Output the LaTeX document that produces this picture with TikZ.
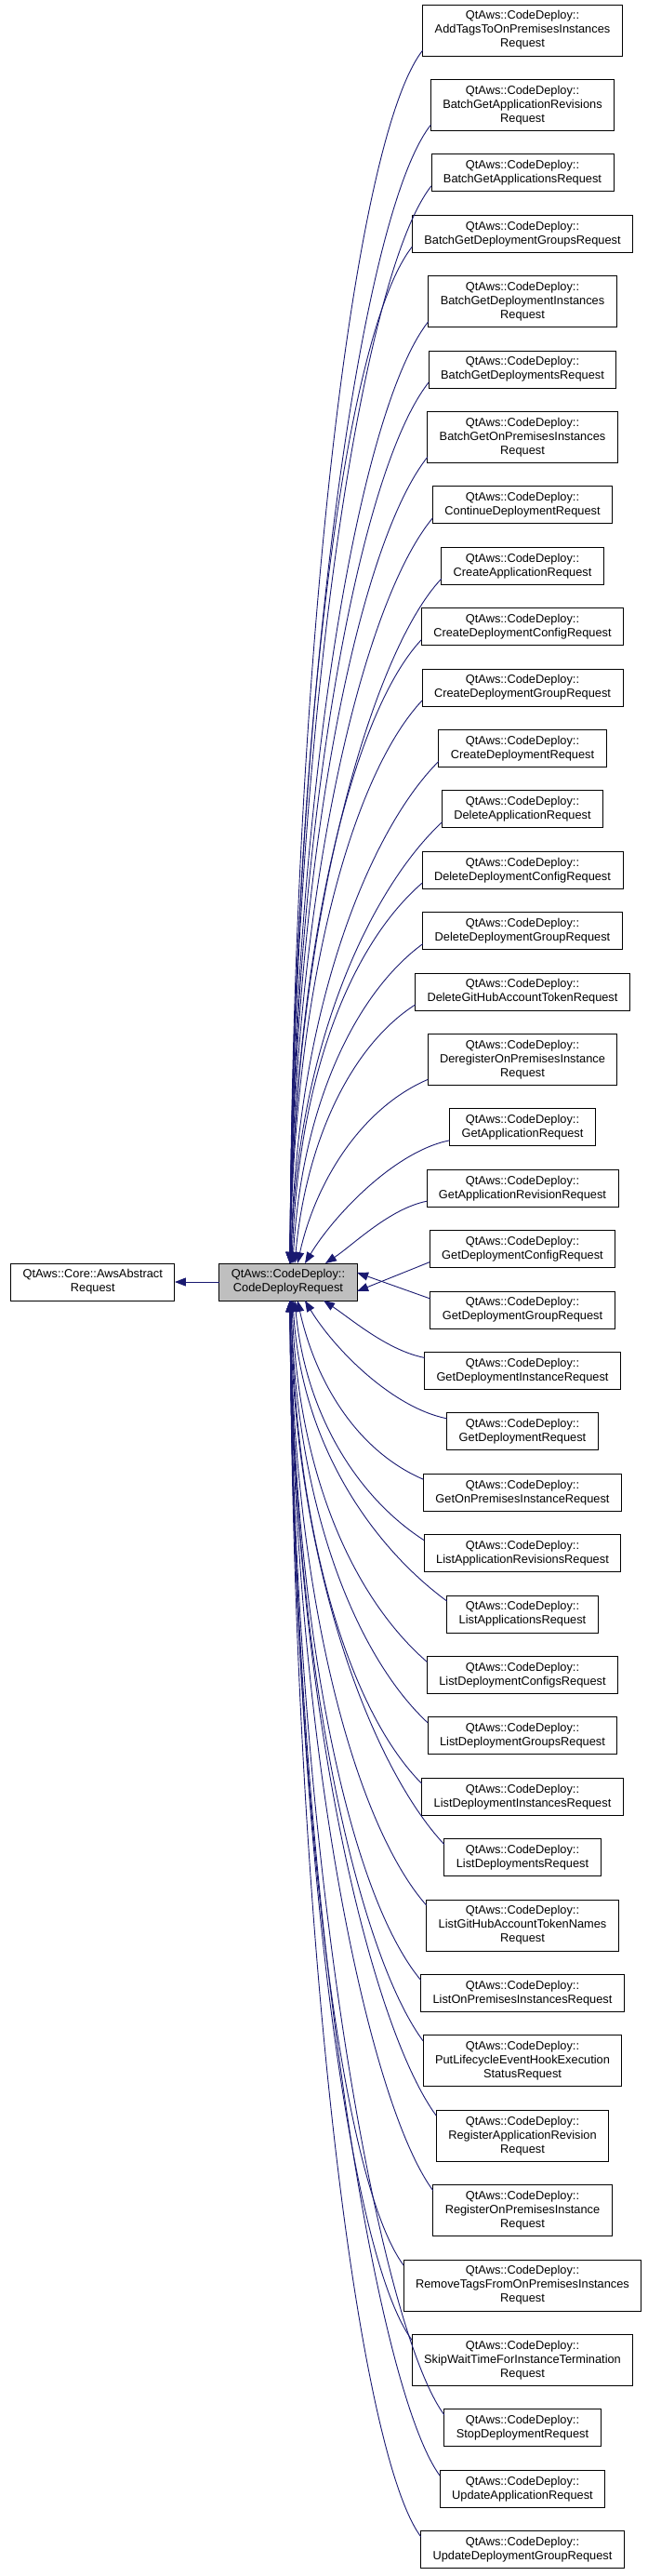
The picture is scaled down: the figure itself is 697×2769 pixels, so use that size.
\documentclass[tikz,border=0pt]{standalone}
\usepackage{fontspec}
\setmainfont{Liberation Sans}
\usetikzlibrary{arrows.meta, positioning}
\definecolor{inheritedge}{HTML}{191970}
\definecolor{basefill}{HTML}{BFBFBF}

\begin{document}
\begin{tikzpicture}[
        x=1bp, y=-1bp,
        node distance=25.4bp,
        classnode/.style={
            draw,
            line width=0.9bp,
            fill=white,
            align=center,
            minimum height=40bp,
            inner xsep=13bp,
            inner ysep=2bp,
            outer sep=0pt,
            font=\fontsize{12.8bp}{15bp}\selectfont
        },
        tallnode/.style={classnode, minimum height=55bp},
        basenode/.style={classnode, fill=basefill},
        inheritlink/.style={-{Triangle[length=12bp, width=9bp]}, line width=0.9bp, inheritedge}
    ]
        \useasboundingbox (0,0) rectangle (697,2769);

        \node[basenode] (codedeployrequest) at (310,1378) {QtAws::CodeDeploy::\\CodeDeployRequest};
        \node[classnode, left=48bp of codedeployrequest] (awsabstractrequest) {QtAws::Core::AwsAbstract\\Request};

        \node[tallnode] (addtags) at (562,32.5) {QtAws::CodeDeploy::\\AddTagsToOnPremisesInstances\\Request};
        \node[tallnode, below=of addtags] (batchgetapprevisions) {QtAws::CodeDeploy::\\BatchGetApplicationRevisions\\Request};
        \node[classnode, below=of batchgetapprevisions] (batchgetapps) {QtAws::CodeDeploy::\\BatchGetApplicationsRequest};
        \node[classnode, below=of batchgetapps] (batchgetdepgroups) {QtAws::CodeDeploy::\\BatchGetDeploymentGroupsRequest};
        \node[tallnode, below=of batchgetdepgroups] (batchgetdepinstances) {QtAws::CodeDeploy::\\BatchGetDeploymentInstances\\Request};
        \node[classnode, below=of batchgetdepinstances] (batchgetdeps) {QtAws::CodeDeploy::\\BatchGetDeploymentsRequest};
        \node[tallnode, below=of batchgetdeps] (batchgetonprem) {QtAws::CodeDeploy::\\BatchGetOnPremisesInstances\\Request};
        \node[classnode, below=of batchgetonprem] (continuedep) {QtAws::CodeDeploy::\\ContinueDeploymentRequest};
        \node[classnode, below=of continuedep] (createapp) {QtAws::CodeDeploy::\\CreateApplicationRequest};
        \node[classnode, below=of createapp] (createdepconfig) {QtAws::CodeDeploy::\\CreateDeploymentConfigRequest};
        \node[classnode, below=of createdepconfig] (createdepgroup) {QtAws::CodeDeploy::\\CreateDeploymentGroupRequest};
        \node[classnode, below=of createdepgroup] (createdep) {QtAws::CodeDeploy::\\CreateDeploymentRequest};
        \node[classnode, below=of createdep] (deleteapp) {QtAws::CodeDeploy::\\DeleteApplicationRequest};
        \node[classnode, below=of deleteapp] (deletedepconfig) {QtAws::CodeDeploy::\\DeleteDeploymentConfigRequest};
        \node[classnode, below=of deletedepconfig] (deletedepgroup) {QtAws::CodeDeploy::\\DeleteDeploymentGroupRequest};
        \node[classnode, below=of deletedepgroup] (deletegithub) {QtAws::CodeDeploy::\\DeleteGitHubAccountTokenRequest};
        \node[tallnode, below=of deletegithub] (deregister) {QtAws::CodeDeploy::\\DeregisterOnPremisesInstance\\Request};
        \node[classnode, below=of deregister] (getapp) {QtAws::CodeDeploy::\\GetApplicationRequest};
        \node[classnode, below=of getapp] (getapprevision) {QtAws::CodeDeploy::\\GetApplicationRevisionRequest};
        \node[classnode, below=of getapprevision] (getdepconfig) {QtAws::CodeDeploy::\\GetDeploymentConfigRequest};
        \node[classnode, below=of getdepconfig] (getdepgroup) {QtAws::CodeDeploy::\\GetDeploymentGroupRequest};
        \node[classnode, below=of getdepgroup] (getdepinstance) {QtAws::CodeDeploy::\\GetDeploymentInstanceRequest};
        \node[classnode, below=of getdepinstance] (getdep) {QtAws::CodeDeploy::\\GetDeploymentRequest};
        \node[classnode, below=of getdep] (getonprem) {QtAws::CodeDeploy::\\GetOnPremisesInstanceRequest};
        \node[classnode, below=of getonprem] (listapprevisions) {QtAws::CodeDeploy::\\ListApplicationRevisionsRequest};
        \node[classnode, below=of listapprevisions] (listapps) {QtAws::CodeDeploy::\\ListApplicationsRequest};
        \node[classnode, below=of listapps] (listdepconfigs) {QtAws::CodeDeploy::\\ListDeploymentConfigsRequest};
        \node[classnode, below=of listdepconfigs] (listdepgroups) {QtAws::CodeDeploy::\\ListDeploymentGroupsRequest};
        \node[classnode, below=of listdepgroups] (listdepinstances) {QtAws::CodeDeploy::\\ListDeploymentInstancesRequest};
        \node[classnode, below=of listdepinstances] (listdeps) {QtAws::CodeDeploy::\\ListDeploymentsRequest};
        \node[tallnode, below=of listdeps] (listgithub) {QtAws::CodeDeploy::\\ListGitHubAccountTokenNames\\Request};
        \node[classnode, below=of listgithub] (listonprem) {QtAws::CodeDeploy::\\ListOnPremisesInstancesRequest};
        \node[tallnode, below=of listonprem] (putlifecycle) {QtAws::CodeDeploy::\\PutLifecycleEventHookExecution\\StatusRequest};
        \node[tallnode, below=of putlifecycle] (registerapprevision) {QtAws::CodeDeploy::\\RegisterApplicationRevision\\Request};
        \node[tallnode, below=of registerapprevision] (registeronprem) {QtAws::CodeDeploy::\\RegisterOnPremisesInstance\\Request};
        \node[tallnode, below=of registeronprem] (removetags) {QtAws::CodeDeploy::\\RemoveTagsFromOnPremisesInstances\\Request};
        \node[tallnode, below=of removetags] (skipwait) {QtAws::CodeDeploy::\\SkipWaitTimeForInstanceTermination\\Request};
        \node[classnode, below=of skipwait] (stopdep) {QtAws::CodeDeploy::\\StopDeploymentRequest};
        \node[classnode, below=of stopdep] (updateapp) {QtAws::CodeDeploy::\\UpdateApplicationRequest};
        \node[classnode, below=of updateapp] (updatedepgroup) {QtAws::CodeDeploy::\\UpdateDeploymentGroupRequest};

        % base class
        \draw[inheritlink] (codedeployrequest) -- (awsabstractrequest);

        % derived classes above
        \draw[inheritlink] ([yshift=6bp]addtags.south west) .. controls +(-75,95) and +(3,-650) .. ([xshift=2bp]codedeployrequest.north);
        \draw[inheritlink] ([yshift=6bp]batchgetapprevisions.south west) .. controls +(-75,95) and +(3,-612) .. ([xshift=2bp]codedeployrequest.north);
        \draw[inheritlink] ([yshift=6bp]batchgetapps.south west) .. controls +(-75,95) and +(3,-579) .. ([xshift=2bp]codedeployrequest.north);
        \draw[inheritlink] ([yshift=6bp]batchgetdepgroups.south west) .. controls +(-75,95) and +(3,-546) .. ([xshift=2bp]codedeployrequest.north);
        \draw[inheritlink] ([yshift=6bp]batchgetdepinstances.south west) .. controls +(-75,95) and +(3,-506) .. ([xshift=2bp]codedeployrequest.north);
        \draw[inheritlink] ([yshift=6bp]batchgetdeps.south west) .. controls +(-75,95) and +(3,-473) .. ([xshift=2bp]codedeployrequest.north);
        \draw[inheritlink] ([yshift=6bp]batchgetonprem.south west) .. controls +(-75,95) and +(3,-433) .. ([xshift=2bp]codedeployrequest.north);
        \draw[inheritlink] ([yshift=6bp]continuedep.south west) .. controls +(-75,90) and +(3,-400) .. ([xshift=2bp]codedeployrequest.north);
        \draw[inheritlink] ([yshift=6bp]createapp.south west) .. controls +(-75,80) and +(4,-368) .. ([xshift=2bp]codedeployrequest.north);
        \draw[inheritlink] ([yshift=6bp]createdepconfig.south west) .. controls +(-75,80) and +(4,-335) .. ([xshift=2bp]codedeployrequest.north);
        \draw[inheritlink] ([yshift=6bp]createdepgroup.south west) .. controls +(-75,80) and +(5,-302) .. ([xshift=2bp]codedeployrequest.north);
        \draw[inheritlink] ([yshift=6bp]createdep.south west) .. controls +(-75,75) and +(5,-270) .. ([xshift=3bp]codedeployrequest.north);
        \draw[inheritlink] ([yshift=6bp]deleteapp.south west) .. controls +(-75,70) and +(6,-237) .. ([xshift=3bp]codedeployrequest.north);
        \draw[inheritlink] ([yshift=6bp]deletedepconfig.south west) .. controls +(-75,65) and +(7,-205) .. ([xshift=4bp]codedeployrequest.north);
        \draw[inheritlink] ([yshift=6bp]deletedepgroup.south west) .. controls +(-75,55) and +(9,-165) .. ([xshift=5bp]codedeployrequest.north);
        \draw[inheritlink] ([yshift=6bp]deletegithub.south west) .. controls +(-70,45) and +(12,-130) .. ([xshift=7bp]codedeployrequest.north);
        \draw[inheritlink] ([yshift=6bp]deregister.south west) .. controls +(-70,30) and +(20,-90) .. ([xshift=10bp]codedeployrequest.north);
        \draw[inheritlink] ([yshift=6bp]getapp.south west) .. controls +(-60,12) and +(30,-50) .. ([xshift=18bp]codedeployrequest.north);
        \draw[inheritlink] ([yshift=6bp]getapprevision.south west) .. controls +(-40,8) and +(30,-20) .. ([xshift=40bp]codedeployrequest.north);

        % derived classes beside
        \draw[inheritlink] ([yshift=6bp]getdepconfig.south west) -- ([yshift=-10bp]codedeployrequest.east);
        \draw[inheritlink] ([yshift=-8bp]getdepgroup.north west) -- ([yshift=10bp]codedeployrequest.east);

        % derived classes below
        \draw[inheritlink] ([yshift=-6bp]getdepinstance.north west) .. controls +(-40,-8) and +(30,20) .. ([xshift=38bp]codedeployrequest.south);
        \draw[inheritlink] ([yshift=-6bp]getdep.north west) .. controls +(-60,-12) and +(30,50) .. ([xshift=18bp]codedeployrequest.south);
        \draw[inheritlink] ([yshift=-6bp]getonprem.north west) .. controls +(-70,-30) and +(20,90) .. ([xshift=10bp]codedeployrequest.south);
        \draw[inheritlink] ([yshift=-6bp]listapprevisions.north west) .. controls +(-70,-45) and +(12,125) .. ([xshift=7bp]codedeployrequest.south);
        \draw[inheritlink] ([yshift=-6bp]listapps.north west) .. controls +(-75,-55) and +(9,160) .. ([xshift=5bp]codedeployrequest.south);
        \draw[inheritlink] ([yshift=-6bp]listdepconfigs.north west) .. controls +(-75,-65) and +(7,195) .. ([xshift=4bp]codedeployrequest.south);
        \draw[inheritlink] ([yshift=-6bp]listdepgroups.north west) .. controls +(-75,-70) and +(6,227) .. ([xshift=3bp]codedeployrequest.south);
        \draw[inheritlink] ([yshift=-6bp]listdepinstances.north west) .. controls +(-75,-75) and +(5,260) .. ([xshift=3bp]codedeployrequest.south);
        \draw[inheritlink] ([yshift=-6bp]listdeps.north west) .. controls +(-75,-80) and +(5,292) .. ([xshift=2bp]codedeployrequest.south);
        \draw[inheritlink] ([yshift=-6bp]listgithub.north west) .. controls +(-75,-85) and +(4,325) .. ([xshift=2bp]codedeployrequest.south);
        \draw[inheritlink] ([yshift=-6bp]listonprem.north west) .. controls +(-75,-90) and +(4,365) .. ([xshift=2bp]codedeployrequest.south);
        \draw[inheritlink] ([yshift=-6bp]putlifecycle.north west) .. controls +(-70,-95) and +(3,398) .. ([xshift=2bp]codedeployrequest.south);
        \draw[inheritlink] ([yshift=-6bp]registerapprevision.north west) .. controls +(-70,-95) and +(3,438) .. ([xshift=2bp]codedeployrequest.south);
        \draw[inheritlink] ([yshift=-6bp]registeronprem.north west) .. controls +(-70,-95) and +(3,478) .. ([xshift=2bp]codedeployrequest.south);
        \draw[inheritlink] ([yshift=-6bp]removetags.north west) .. controls +(-70,-95) and +(3,518) .. ([xshift=2bp]codedeployrequest.south);
        \draw[inheritlink] ([yshift=-6bp]skipwait.north west) .. controls +(-70,-95) and +(3,558) .. ([xshift=2bp]codedeployrequest.south);
        \draw[inheritlink] ([yshift=-6bp]stopdep.north west) .. controls +(-70,-95) and +(3,599) .. ([xshift=2bp]codedeployrequest.south);
        \draw[inheritlink] ([yshift=-6bp]updateapp.north west) .. controls +(-70,-95) and +(3,631) .. ([xshift=2bp]codedeployrequest.south);
        \draw[inheritlink] ([yshift=-6bp]updatedepgroup.north west) .. controls +(-70,-95) and +(3,664) .. ([xshift=2bp]codedeployrequest.south);
    \end{tikzpicture}
\end{document}
